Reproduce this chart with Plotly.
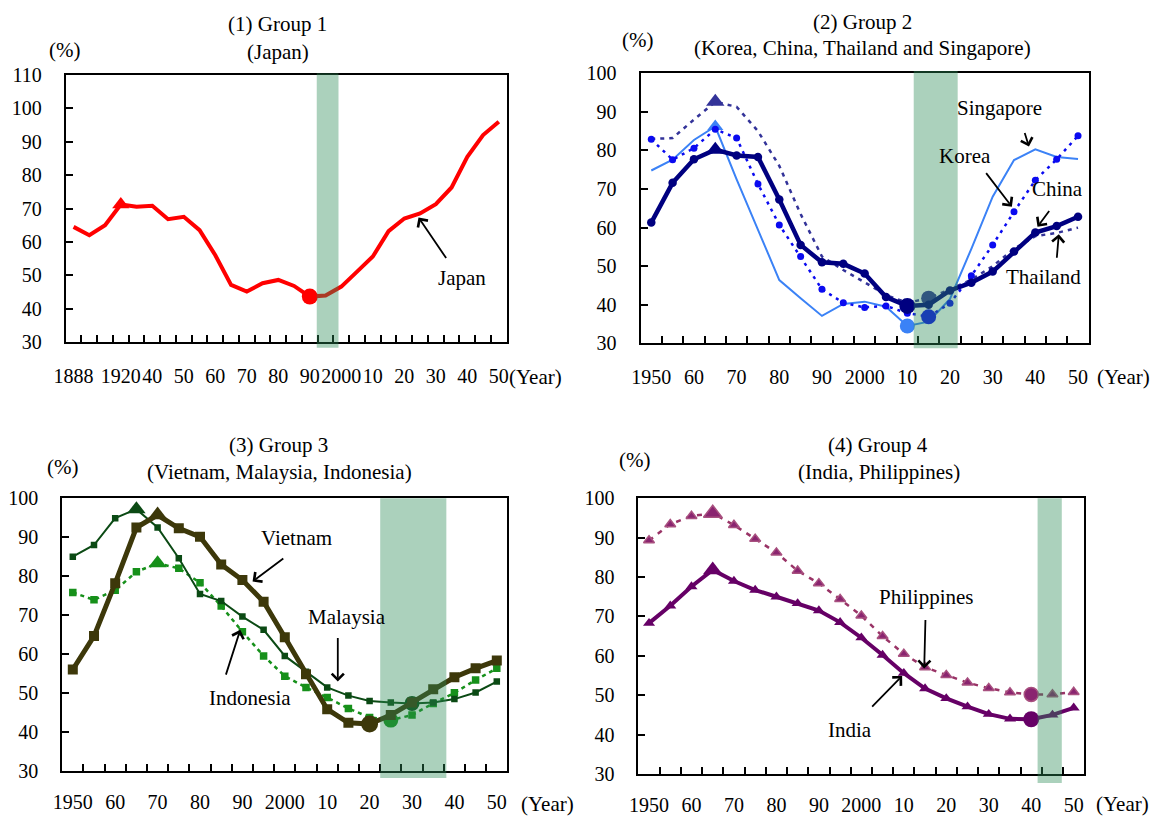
import numpy as np
import plotly.graph_objects as go

# ---------------- data ----------------
japan_years = [1888, 1898, 1908, 1920, 1930, 1940, 1947, 1950, 1955, 1960, 1965, 1970, 1975,
               1980, 1985, 1990, 1995, 2000, 2005, 2010, 2015, 2020, 2025, 2030, 2035, 2040,
               2045, 2050]
japan = [64.5, 62.0, 65.0, 71.2, 70.5, 70.8, 66.8, 67.5, 63.5, 56.0, 47.1, 45.1, 47.6,
         48.6, 46.8, 43.6, 43.9, 46.6, 51.1, 55.6, 63.2, 67.0, 68.5, 71.3, 76.3, 85.5,
         92.0, 96.0]
japan_tick_years = [1888, 1920, 1940, 1950, 1960, 1970, 1980, 1990, 2000, 2010, 2020, 2030, 2040, 2050]
japan_tick_text = ["1888", "1920", "40", "50", "60", "70", "80", "90", "2000", "10", "20", "30", "40", "50"]

years = list(range(1950, 2051, 5))
tick_years = list(range(1950, 2051, 10))
tick_text = ["1950", "60", "70", "80", "90", "2000", "10", "20", "30", "40", "50"]

china = [61.3, 71.6, 77.7, 80.2, 78.7, 78.3, 67.3, 55.5, 51.0, 50.6, 48.1, 42.0, 39.7,
         40.0, 43.7, 45.7, 48.6, 53.8, 58.7, 60.4, 62.8]
korea = [82.9, 77.6, 80.6, 85.5, 83.2, 71.3, 60.7, 52.5, 44.0, 40.5, 39.3, 39.7, 37.8,
         36.9, 40.4, 47.5, 55.5, 64.1, 72.3, 77.7, 83.8]
thailand = [83.0, 83.2, 88.0, 92.6, 91.3, 85.0, 76.0, 63.5, 52.5, 49.0, 45.8, 42.5, 40.5,
            41.7, 44.0, 46.5, 50.0, 54.5, 57.8, 58.6, 60.0]
singapore = [74.8, 77.6, 82.7, 86.2, 72.5, 59.4, 46.4, 41.7, 37.1, 40.2, 40.8, 39.5, 34.5,
             35.6, 41.5, 54.5, 68.0, 77.5, 80.3, 78.3, 77.8]

vietnam = [56.0, 64.6, 78.2, 92.5, 95.7, 92.3, 90.1, 83.0, 79.0, 73.4, 64.3, 54.8, 45.8,
           42.3, 42.0, 44.3, 47.5, 50.9, 54.0, 56.3, 58.3]
malaysia = [85.0, 88.0, 94.9, 97.2, 92.5, 84.6, 75.4, 73.6, 69.6, 66.2, 59.5, 55.4, 51.4,
            49.3, 47.9, 47.5, 47.3, 47.5, 48.4, 50.1, 52.9]
indonesia = [75.8, 73.9, 76.4, 81.1, 83.3, 82.0, 78.3, 72.3, 65.7, 59.5, 54.3, 51.4, 48.8,
             46.0, 43.7, 43.0, 44.3, 47.3, 50.0, 53.3, 56.3]

india = [68.3, 72.7, 77.6, 81.8, 79.0, 76.7, 75.0, 73.3, 71.5, 68.5, 64.6, 60.2, 55.6,
         51.7, 49.2, 47.1, 45.2, 44.0, 43.9, 45.0, 46.8]
philippines = [89.3, 93.4, 95.5, 96.2, 93.2, 89.7, 86.2, 81.6, 78.4, 74.4, 70.2, 65.0, 60.5,
               57.1, 55.1, 53.2, 51.8, 50.7, 50.2, 50.2, 50.8]

# peak (triangle) and trough (circle) years
peak_years = {"Japan": 1920, "China": 1965, "Korea": None, "Thailand": 1965, "Singapore": 1965,
              "Vietnam": 1970, "Malaysia": 1965, "Indonesia": 1970, "India": 1965, "Philippines": 1965}
trough_years = {"Japan": 1990, "China": 2010, "Korea": 2015, "Thailand": 2015, "Singapore": 2010,
                "Vietnam": 2020, "Malaysia": 2030, "Indonesia": 2025, "India": 2040, "Philippines": 2040}

# shaded periods (years)
band_japan = [1992.2, 1999.1]
band_g2 = [2011.5, 2021.8]
band_g3 = [2022.5, 2038.1]
band_g4 = [2041.5, 2047.2]

# ---------------- layout geometry (pixels) ----------------
W, H = 1156, 818
FONT = "Liberation Serif"
FS = 21      # annotation text
TFS = 20     # tick labels

P = {1: dict(l=65.7, r=506.7, t=75.0, b=342.0, so=15),
     2: dict(l=640.6, r=1088.7, t=73.3, b=343.3, so=15),
     3: dict(l=62.2, r=507.4, t=498.3, b=770.7, so=12),
     4: dict(l=638.4, r=1084.3, t=498.3, b=774.0, so=12)}


def px(x):
    return x / W


def py(y):
    return 1 - y / H


jp_idx = np.arange(len(japan_years))


def jx(yr):
    return float(np.interp(yr, japan_years, jp_idx))


def markers(xs, name, base_sym, base_size, tri, circ):
    syms, sizes = [], []
    for x in xs:
        if peak_years[name] is not None and x == peak_years[name]:
            syms.append("triangle-up"); sizes.append(tri)
        elif x == trough_years[name]:
            syms.append("circle"); sizes.append(circ)
        else:
            syms.append(base_sym); sizes.append(base_size)
    return syms, sizes


fig = go.Figure()


def add(xs, ys, name, ax, color, width, dash, base_sym, base_size, tri, circ,
        mcolor=None, mline=None):
    syms, sizes = markers(xs if ax != 1 else japan_years, name, base_sym, base_size, tri, circ)
    xa = "x" if ax == 1 else "x%d" % ax
    ya = "y" if ax == 1 else "y%d" % ax
    mk = dict(symbol=syms, size=sizes, color=mcolor or color, opacity=1,
              line=mline or dict(width=0))
    fig.add_trace(go.Scatter(x=xs, y=ys, mode="lines+markers", name=name,
                             line=dict(color=color, width=width, dash=dash),
                             marker=mk, xaxis=xa, yaxis=ya, hoverinfo="x+y+name"))


# panel 1
add(list(jp_idx), japan, "Japan", 1, "#FF0000", 4, "solid", "circle", 0, 15, 16)
# panel 2
add(years, singapore, "Singapore", 2, "#3B82F6", 2, "solid", "circle", 0, 14, 15)
add(years, thailand, "Thailand", 2, "#333399", 2.5, "4px,5px", "circle", 0, 16, 15)
add(years, korea, "Korea", 2, "#0A0AF0", 2.5, "3px,5px", "circle", 7, 14, 15)
add(years, china, "China", 2, "#000080", 4.5, "solid", "circle", 8.5, 16, 16)
# panel 3
add(years, indonesia, "Indonesia", 3, "#16901A", 2.5, "4px,4px", "square", 7.5, 16, 15)
add(years, malaysia, "Malaysia", 3, "#0B4A14", 2, "solid", "square", 6.5, 16, 15)
add(years, vietnam, "Vietnam", 3, "#3D380A", 5, "solid", "square", 10, 17, 17)
# panel 4
add(years, philippines, "Philippines", 4, "#993366", 2.5, "5px,6px", "triangle-up", 9.5, 16, 14,
    mcolor="#8A2470", mline=dict(color="#A8507F", width=1.5))
add(years, india, "India", 4, "#660066", 4, "solid", "triangle-up", 10.5, 17, 16)

# ---------------- axes ----------------
axis_common = dict(showline=True, linewidth=2, linecolor="black", mirror=True,
                   showgrid=False, zeroline=False, automargin=False,
                   tickfont=dict(family=FONT, size=TFS, color="black"))

layout = dict(width=W, height=H, margin=dict(l=0, r=0, t=0, b=0, pad=0), autosize=False,
              paper_bgcolor="white", plot_bgcolor="white", showlegend=False,
              font=dict(family=FONT, size=FS, color="black"))

for k in (1, 2, 3, 4):
    g = P[k]
    xk = "xaxis" if k == 1 else "xaxis%d" % k
    yk = "yaxis" if k == 1 else "yaxis%d" % k
    xanchor = "y" if k == 1 else "y%d" % k
    yanchor = "x" if k == 1 else "x%d" % k
    if k == 1:
        xr = [-0.5, len(japan_years) - 0.5]
        tv = [jx(v) for v in japan_tick_years]
        tt = japan_tick_text
        minor_v = [i + 0.5 for i in range(len(japan_years) - 1)]
        yr = [30, 110]
    else:
        xr = [years[0] - 2.5, years[-1] + 2.5]
        tv = tick_years
        tt = tick_text
        minor_v = [v + 2.5 for v in years[:-1]]
        yr = [30, 100]
    layout[xk] = dict(axis_common, domain=[px(g["l"]), px(g["r"])], anchor=xanchor,
                      range=xr, tickmode="array", tickvals=tv, ticktext=tt, ticks="",
                      tickangle=0, ticklabelstandoff=g["so"],
                      minor=dict(tickmode="array", tickvals=minor_v, ticks="inside",
                                 ticklen=7, tickwidth=1.5, tickcolor="black"))
    layout[yk] = dict(axis_common, domain=[py(g["b"]), py(g["t"])], anchor=yanchor,
                      range=yr, dtick=10, tick0=30, ticks="inside", ticklen=7,
                      tickwidth=1.5, tickcolor="black", ticklabelstandoff=18)

# ---------------- bands ----------------
band_green = "rgba(46,139,87,0.40)"
shapes = []
for xref, (x0, x1), (ytop, ybot) in [
        ("x", (jx(band_japan[0]), jx(band_japan[1])), (73.3, 347.7)),
        ("x2", band_g2, (71.0, 348.3)),
        ("x3", band_g3, (498.3, 778.0)),
        ("x4", band_g4, (498.3, 783.0))]:
    shapes.append(dict(type="rect", xref=xref, yref="paper", x0=x0, x1=x1,
                       y0=py(ybot), y1=py(ytop), fillcolor=band_green,
                       line=dict(width=0), layer="above"))
layout["shapes"] = shapes

# ---------------- text annotations ----------------
ann = []


def ptext(text, x, y, xanchor="center"):
    ann.append(dict(text=text, x=px(x), y=py(y), xref="paper", yref="paper",
                    xanchor=xanchor, yanchor="middle", showarrow=False,
                    font=dict(family=FONT, size=FS, color="black")))


ptext("(1) Group 1", 277, 24)
ptext("(Japan)", 278, 51.7)
ptext("(%)", 64, 50)
ptext("(2) Group 2", 863, 21.7)
ptext("(Korea, China, Thailand and Singapore)", 862.3, 48.3)
ptext("(%)", 637.5, 40)
ptext("(3) Group 3", 278.7, 445)
ptext("(Vietnam, Malaysia, Indonesia)", 279.3, 471.7)
ptext("(%)", 62, 466.7)
ptext("(4) Group 4", 878, 445)
ptext("(India, Philippines)", 878.6, 471.7)
ptext("(%)", 634, 460)
ptext("(Year)", 535.5, 376.7)
ptext("(Year)", 1123, 376.7)
ptext("(Year)", 547, 804)
ptext("(Year)", 1122, 804)


def dtext(text, ax, x, y):
    xa = "x" if ax == 1 else "x%d" % ax
    ya = "y" if ax == 1 else "y%d" % ax
    ann.append(dict(text=text, x=x, y=y, xref=xa, yref=ya, showarrow=False,
                    xanchor="center", yanchor="middle",
                    font=dict(family=FONT, size=FS, color="black")))


def arrow(ax, head, tail):
    xa = "x" if ax == 1 else "x%d" % ax
    ya = "y" if ax == 1 else "y%d" % ax
    ann.append(dict(text="", x=head[0], y=head[1], ax=tail[0], ay=tail[1],
                    xref=xa, yref=ya, axref=xa, ayref=ya, showarrow=True,
                    arrowhead=4, arrowsize=1.3, arrowwidth=1.8, arrowcolor="black",
                    standoff=0, startstandoff=0))


dtext("Japan", 1, jx(2038.3), 49.1)
arrow(1, (jx(2024.5), 67.3), (jx(2033.6), 54.7))

dtext("Singapore", 2, 2031.7, 90.9)
arrow(2, (2038.5, 81.0), (2037.4, 84.9))
dtext("Korea", 2, 2023.6, 78.6)
arrow(2, (2034.5, 65.4), (2028.2, 74.5))
dtext("China", 2, 2045.3, 69.9)
arrow(2, (2040.5, 60.2), (2043.5, 64.7))
dtext("Thailand", 2, 2042.0, 47.1)
arrow(2, (2045.5, 58.3), (2045.0, 51.8))

dtext("Vietnam", 3, 2002.7, 89.7)
arrow(3, (1992.4, 78.6), (2000.0, 84.8))
dtext("Malaysia", 3, 2014.6, 69.4)
arrow(3, (2012.5, 52.9), (2012.5, 64.5))
dtext("Indonesia", 3, 1991.8, 48.6)
arrow(3, (1989.5, 66.2), (1986.0, 54.3))

dtext("Philippines", 4, 2015.3, 75.0)
arrow(4, (2014.8, 56.8), (2015.1, 69.5))
dtext("India", 4, 1997.4, 41.2)
arrow(4, (2009.6, 54.9), (2002.2, 46.7))

layout["annotations"] = ann
fig.update_layout(**layout)
fig.write_html("out.html", config={"displayModeBar": False},
               post_script="document.body.style.margin='0';document.body.style.overflow='hidden';")
